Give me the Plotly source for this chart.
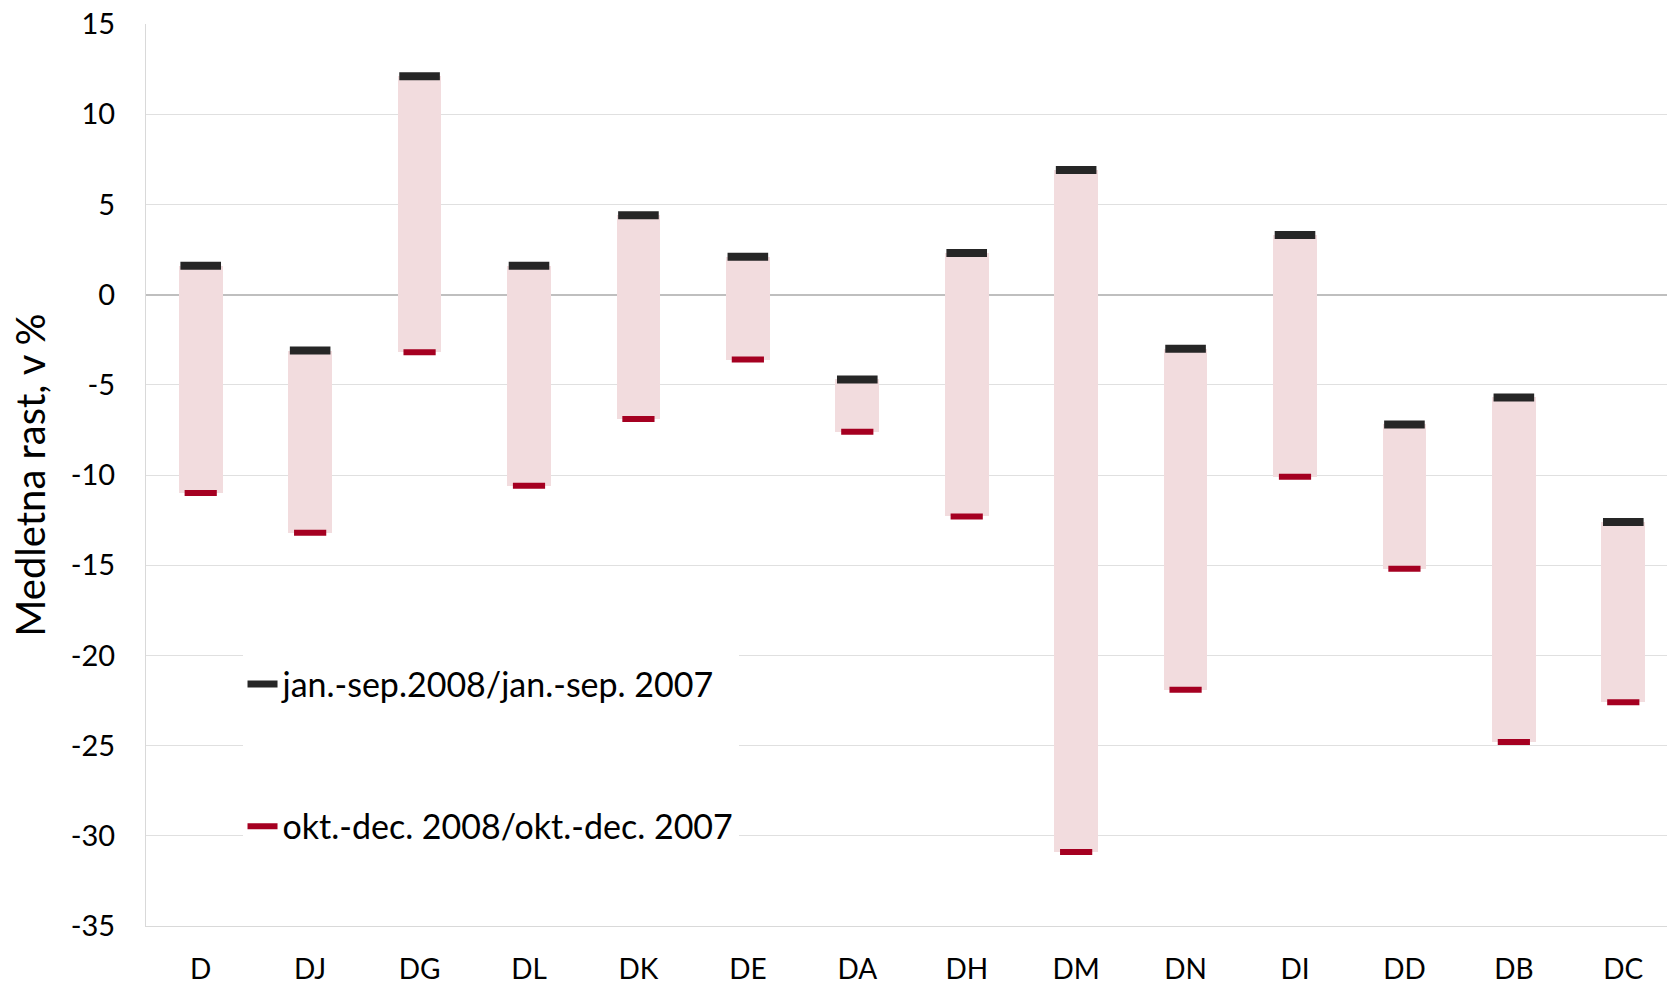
import plotly.graph_objects as go

categories = ["D", "DJ", "DG", "DL", "DK", "DE", "DA", "DH", "DM", "DN", "DI", "DD", "DB", "DC"]
jan_sep = [1.6, -3.1, 12.1, 1.6, 4.4, 2.1, -4.7, 2.3, 6.9, -3.0, 3.3, -7.2, -5.7, -12.6]
okt_dec = [-11.0, -13.2, -3.2, -10.6, -6.9, -3.6, -7.6, -12.3, -30.9, -21.9, -10.1, -15.2, -24.8, -22.6]
y_ticks = [15, 10, 5, 0, -5, -10, -15, -20, -25, -30, -35]
y_labels = ["15", "10", "5", "0", "-5", "-10", "-15", "-20", "-25", "-30", "-35"]
names = ["jan.-sep.2008/jan.-sep. 2007", "okt.-dec. 2008/okt.-dec. 2007"]
colors = ["#262626", "#A50021"]

FONT = "Lato, Carlito, Calibri, sans-serif"

low = [min(a, b) for a, b in zip(jan_sep, okt_dec)]
span = [abs(a - b) for a, b in zip(jan_sep, okt_dec)]

fig = go.Figure()

# pink range bars between the two periods
fig.add_trace(go.Bar(
    x=categories, y=span, base=low, width=0.4,
    marker=dict(color="#F2DCDE", line=dict(width=0)),
    showlegend=False, hoverinfo="skip",
))

fig.add_trace(go.Scatter(
    x=categories, y=jan_sep, mode="markers", name=names[0], showlegend=False,
    marker=dict(symbol="line-ew", size=29, line=dict(width=8, color=colors[0])),
))
fig.add_trace(go.Scatter(
    x=categories, y=okt_dec, mode="markers", name=names[1], showlegend=False,
    marker=dict(symbol="line-ew", size=23, line=dict(width=6, color=colors[1])),
))

# legend entries (short thick dashes like the markers)
for i, (nm, col) in enumerate(zip(names, colors)):
    fig.add_trace(go.Scatter(
        x=[None], y=[None], mode="lines", name=nm, legendgroup=str(i),
        line=dict(color=col, width=7 if i == 0 else 6),
    ))

# plot area runs a little past the right edge of the window, as in the original
fig.update_layout(
    width=1678, height=985,
    margin=dict(l=146, r=0, t=24, b=55),
    paper_bgcolor="white", plot_bgcolor="white",
    font=dict(family=FONT, size=28, color="black"),
    bargap=0,
    legend=dict(
        x=0.063, y=0.30, xanchor="left", yanchor="top",
        bgcolor="white", font=dict(size=34),
        tracegroupgap=95,
    ),
    xaxis=dict(
        type="category", range=[-0.5, 13.5],
        showgrid=False, showline=True, linecolor="#D9D9D9", linewidth=1,
        ticks="", ticklabelstandoff=18, tickfont=dict(size=28),
    ),
    yaxis=dict(
        range=[-35, 15], tickvals=y_ticks, ticktext=y_labels,
        showgrid=True, gridcolor="#E0E0E0", gridwidth=1,
        zeroline=True, zerolinecolor="#BFBFBF", zerolinewidth=1.5,
        showline=True, linecolor="#D9D9D9", linewidth=1,
        ticks="", ticklabelstandoff=24, tickfont=dict(size=29),
        title=dict(text="Medletna rast, v %", font=dict(size=40), standoff=12),
    ),
)

fig.write_html(
    "out.html",
    config={"displayModeBar": False},
    post_script="document.body.style.margin='0';"
                "document.body.style.overflow='hidden';"
                "document.documentElement.style.overflow='hidden';",
)
